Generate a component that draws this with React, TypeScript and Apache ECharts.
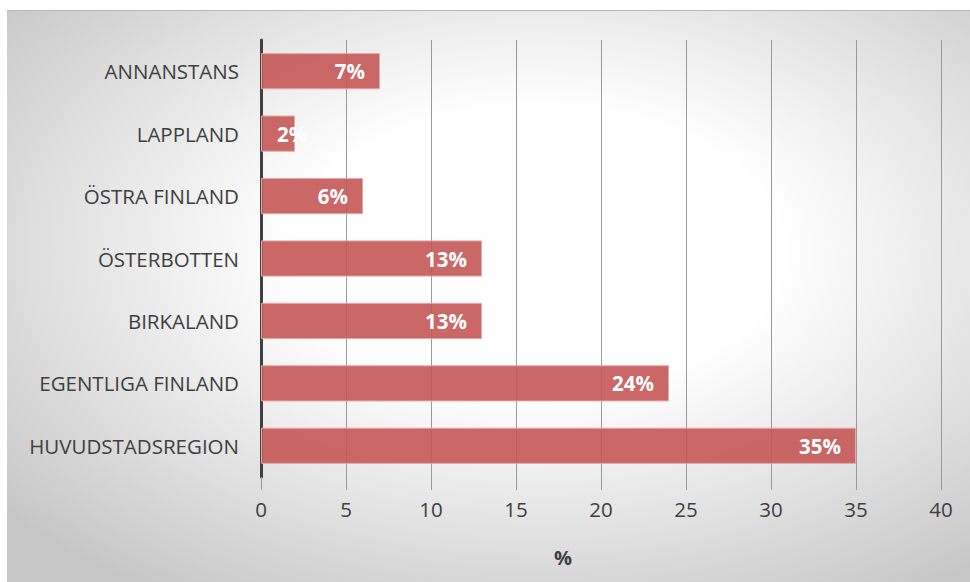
import React, { useEffect, useRef } from "react";
import * as echarts from "echarts";

const categories = [
  "HUVUDSTADSREGION",
  "EGENTLIGA FINLAND",
  "BIRKALAND",
  "ÖSTERBOTTEN",
  "ÖSTRA FINLAND",
  "LAPPLAND",
  "ANNANSTANS",
];
const values = [35, 24, 13, 13, 6, 2, 7];
const axisName = "%";

export default function App() {
  const ref = useRef<HTMLDivElement>(null);
  useEffect(() => {
    if (!ref.current) return;
    const chart = echarts.init(ref.current, null, { renderer: "svg" });
    const font = "'Open Sans', 'DejaVu Sans', sans-serif";
    const data = values.map((v) =>
      v < 4
        ? { value: v, label: { position: "insideLeft", distance: 16 } }
        : { value: v }
    );
    chart.setOption({
      animation: false,
      textStyle: { fontFamily: font },
      graphic: [
        {
          type: "rect",
          z: -10,
          silent: true,
          shape: { x: 7, y: 10, width: 963, height: 572 },
          style: {
            fill: new echarts.graphic.RadialGradient(0.55, 0.42, 0.72, [
              { offset: 0, color: "#ffffff" },
              { offset: 0.35, color: "#ffffff" },
              { offset: 1, color: "#c6c6c6" },
            ]),
          },
        },
        {
          type: "line",
          z: -9,
          silent: true,
          shape: { x1: 7, y1: 10.5, x2: 970, y2: 10.5 },
          style: { stroke: "#b8b8b8", lineWidth: 1 },
        },
      ],
      grid: { left: 261, right: 29, top: 40, bottom: 105, containLabel: false },
      xAxis: {
        type: "value",
        min: 0,
        max: 40,
        interval: 5,
        name: axisName,
        nameLocation: "middle",
        nameGap: 70,
        nameTextStyle: {
          fontSize: 20,
          fontWeight: "bold",
          color: "#404040",
          fontFamily: font,
          padding: [0, 76, 0, 0],
        },
        axisLine: { show: false },
        axisTick: { show: true, length: 13, lineStyle: { color: "#9a9a9a" } },
        axisLabel: { fontSize: 20.5, color: "#404040", margin: 21, fontFamily: font },
        splitLine: { show: true, lineStyle: { color: "#9a9a9a", width: 1 } },
      },
      yAxis: {
        type: "category",
        data: categories,
        axisLine: { show: true, lineStyle: { color: "#404040", width: 3 } },
        axisTick: { show: false },
        axisLabel: { fontSize: 20.5, color: "#404040", margin: 22, fontFamily: font },
        splitLine: { show: false },
      },
      series: [
        {
          type: "bar",
          data,
          barCategoryGap: "42%",
          itemStyle: { color: "rgba(196,88,86,0.9)", borderColor: "#e3a9a8", borderWidth: 1 },
          label: {
            show: true,
            position: "insideRight",
            formatter: "{c}%",
            color: "#ffffff",
            fontSize: 20.5,
            fontWeight: "bold",
            fontFamily: font,
            distance: 15,
          },
        },
      ],
    });
    return () => chart.dispose();
  }, []);
  return (
    <div
      ref={ref}
      style={{ position: "absolute", left: 0, top: 0, width: 970, height: 582, background: "#ffffff" }}
    />
  );
}
